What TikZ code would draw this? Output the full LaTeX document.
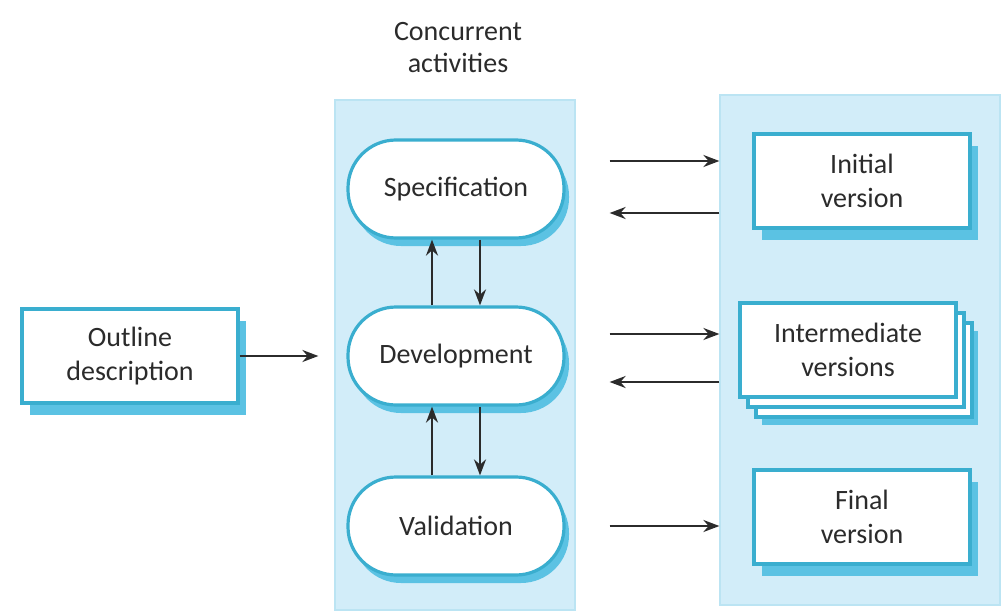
\documentclass[tikz,border=0pt]{standalone}
\usepackage{fontspec}
\setmainfont{Carlito}
\usetikzlibrary{arrows.meta,positioning,shadows}

\definecolor{panelblue}{HTML}{D2EDF9}
\definecolor{edgeblue}{HTML}{3AAECF}
\definecolor{shadeblue}{HTML}{5BC2E3}
\definecolor{inkgrey}{HTML}{2B2B2B}

\begin{document}
\begin{tikzpicture}[x=0.5pt, y=-0.5pt,
  panel/.style={draw=panelblue!85!edgeblue, line width=0.6pt, fill=panelblue,
    minimum width=#1, minimum height=255pt, inner sep=0pt},
  pill/.style={draw=edgeblue, line width=1.6pt, fill=white,
    rounded corners=24pt, minimum width=108pt, minimum height=49pt,
    font=\fontsize{14}{17}\selectfont, text=inkgrey,
    drop shadow={shadow xshift=2.5pt, shadow yshift=-4pt, fill=shadeblue, opacity=1}},
  box/.style={draw=edgeblue, line width=1.6pt, fill=white,
    minimum width=108pt, minimum height=47pt, align=center,
    font=\fontsize{14}{17}\selectfont, text=inkgrey},
  shadowbox/.style={box,
    drop shadow={shadow xshift=4pt, shadow yshift=-6pt, fill=shadeblue, opacity=1}},
  stackbox/.style={box,
    drop shadow={shadow xshift=11pt, shadow yshift=-14pt, fill=shadeblue, opacity=1},
    double copy shadow={shadow xshift=4pt, shadow yshift=-5pt}},
  arr/.style={-{Stealth[length=8pt, width=6pt]}, line width=1.1pt, draw=inkgrey}
]
  \useasboundingbox (0,0) rectangle (1006,615);

  % background panels
  \node[panel=120pt] (conc) at (455,355) {};
  \node[panel=140pt] (versions) at (860,350) {};
  \node[font=\fontsize{14}{16}\selectfont, align=center, text=inkgrey] (title) at (458,48)
    {Concurrent\\activities};

  % activities
  \node[pill] (spec) at (456,189) {Specification};
  \node[pill] (dev) at (456,356) {Development};
  \node[pill] (valid) at (456,526) {Validation};

  \node[shadowbox] (outline) at (130,356) {Outline\\description};
  \node[shadowbox] (initial) at (862,181) {Initial\\version};
  \node[stackbox] (inter) at (848,350) {Intermediate\\versions};
  \node[shadowbox] (final) at (862,517) {Final\\version};

  \draw[arr, shorten >=8pt] (outline) -- (outline -| conc.west);

  \draw[arr] ([xshift=-12pt]dev.north) -- ([xshift=-12pt]spec.south);
  \draw[arr] ([xshift=12pt]spec.south) -- ([xshift=12pt]dev.north);
  \draw[arr] ([xshift=-12pt]valid.north) -- ([xshift=-12pt]dev.south);
  \draw[arr] ([xshift=12pt]dev.south) -- ([xshift=12pt]valid.north);

  \draw[arr, shorten <=17pt] ([yshift=14pt]spec.east -| conc.east) -- ([yshift=14pt]spec.east -| versions.west);
  \draw[arr, shorten >=17pt] ([yshift=-12pt]spec.east -| versions.west) -- ([yshift=-12pt]spec.east -| conc.east);
  \draw[arr, shorten <=17pt] ([yshift=11pt]dev.east -| conc.east) -- ([yshift=11pt]dev.east -| versions.west);
  \draw[arr, shorten >=17pt] ([yshift=-13pt]dev.east -| versions.west) -- ([yshift=-13pt]dev.east -| conc.east);
  \draw[arr, shorten <=17pt] (valid.east -| conc.east) -- (valid.east -| versions.west);
\end{tikzpicture}
\end{document}
